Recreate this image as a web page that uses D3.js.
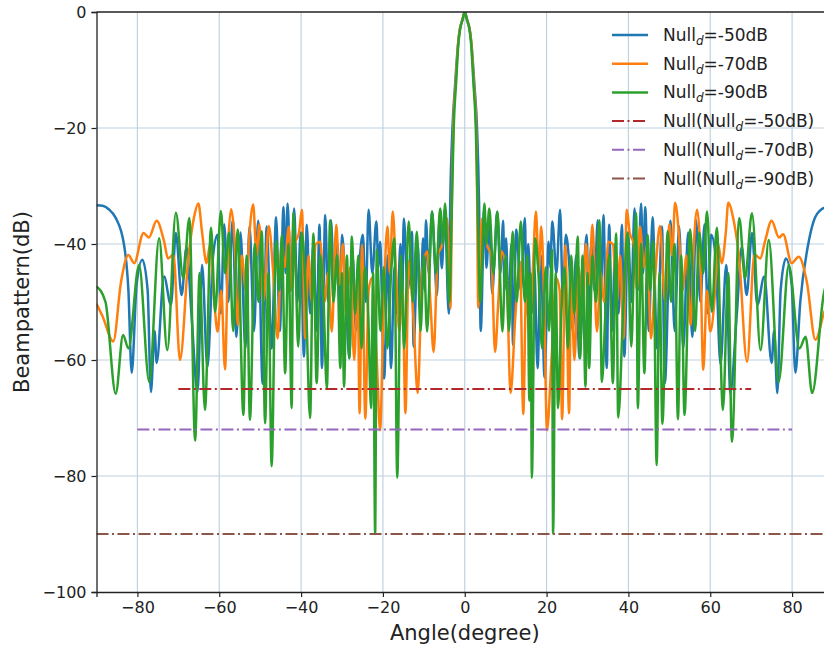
<!DOCTYPE html>
<html lang="en">
<head>
<meta charset="UTF-8" />
<title>Beampattern</title>
<script src="https://d3js.org/d3.v7.min.js"></script>
<style>
  body { margin: 0; background: #fff; }
  svg { font-family: "DejaVu Sans", sans-serif; }
  .grid line { stroke: #bfd2de; stroke-width: 1.2; }
</style>
</head>
<body>
<script>
// angle (degree) / beampattern (dB) pairs
var blue50 = [
  [-90,-33.3],[-88.5,-33.4],[-87,-34],[-85.3,-35.5],[-83.3,-40],[-82.2,-48],[-81.4,-62.2],[-80.2,-47],[-78.8,-42.7],[-77.5,-48],[-76.7,-65.5],[-75.8,-55],[-75.3,-60.5],[-73.5,-45.6],[-71.8,-50.5],[-70.6,-38.1],[-69.2,-48.8],[-68.0,-40.5],[-66.8,-52],[-65.3,-65.5],[-64.2,-43.6],[-62.9,-61.2],[-61.5,-42],[-60.4,-38.4],[-59.6,-52],[-58.8,-36.6],[-57.8,-50],[-56.7,-35.8],[-55.8,-56],[-54.8,-38],[-53.6,-58],[-52.6,-37],[-51.5,-55],[-50.5,-36],[-49.4,-64.1],[-48.4,-37],[-47.2,-58],[-46.1,-35.4],[-45.2,-55],[-44.3,-33.6],[-43.8,-45],[-43.3,-33.0],[-42.5,-48],[-41.7,-33.9],[-40.9,-50],[-40.1,-38],[-39.3,-59.4],[-38.6,-36.7],[-37.8,-52],[-37.0,-40],[-36.2,-55],[-35.5,-36.7],[-34.9,-61.4],[-34.1,-35],[-33.4,-50],[-32.7,-35.9],[-31.9,-48],[-31.1,-40],[-30.5,-52],[-30.0,-38.4],[-29.0,-50],[-28.2,-59.7],[-27.4,-42],[-26.6,-55],[-25.7,-43],[-24.9,-38.4],[-24.2,-50],[-23.5,-34.1],[-22.6,-45],[-21.6,-36.1],[-21.1,-44],[-20.7,-39.6],[-19.7,-63.2],[-18.8,-42],[-18.0,-61.4],[-17.2,-44],[-16.5,-52],[-15.7,-40],[-15.3,-50],[-14.9,-35.6],[-13.9,-48],[-12.9,-37.9],[-12.5,-57.7],[-11.5,-40],[-10.8,-52],[-10.2,-39],[-9.8,-48],[-9.5,-35.9],[-8.8,-45],[-8.0,-34.4],[-7.4,-42],[-6.8,-48.8],[-6.2,-36],[-5.6,-44.2],[-4.9,-34],[-3.9,-52],[-3.55,-33],[-3.0,-20],[-2.4,-13],[-1.7,-6],[-1.2,-3],[-0.6,-1.5],[0,0],
  [0.6,-1.5],[1.2,-3],[1.7,-6],[2.4,-13],[3.0,-20],[3.5,-33],[3.9,-55],[4.8,-34],[5.3,-44.1],[6.0,-36],[6.7,-48.5],[7.3,-42],[7.9,-34.5],[8.7,-45],[9.4,-36],[9.7,-48],[10.1,-39],[10.7,-52],[11.4,-40],[11.8,-57.4],[12.6,-37.5],[13.7,-48],[14.7,-35.5],[15.1,-50],[15.5,-40],[16.3,-52],[17.0,-44],[17.8,-61.4],[18.6,-42],[19.5,-63],[20.5,-39.6],[20.9,-44],[21.4,-36.1],[22.4,-45],[23.3,-34.1],[24.0,-50],[24.7,-38.4],[25.5,-43],[26.4,-55],[27.2,-42],[28.0,-59.7],[28.8,-50],[29.8,-38.4],[30.3,-52],[30.9,-40],[31.7,-48],[32.5,-35.9],[33.2,-50],[33.9,-35],[34.7,-61.4],[35.3,-36.7],[36.0,-55],[36.8,-40],[37.6,-52],[38.4,-36.7],[39.0,-59.4],[39.9,-38],[40.7,-50],[41.5,-33.9],[42.3,-48],[43.1,-33.0],[43.6,-45],[44.1,-33.6],[45.0,-55],[45.9,-35.4],[47.0,-58],[48.2,-37],[48.9,-64],[50.3,-36],[51.3,-55],[52.4,-37],[53.4,-58],[54.6,-38],[55.6,-56],[56.5,-35.8],[57.6,-50],[58.6,-36.6],[59.4,-52],[60.2,-38.4],[61.3,-42],[62.5,-60.7],[63.9,-43.6],[64.9,-65.7],[66.5,-52],[67.7,-40.5],[68.9,-48.8],[70.2,-38.1],[71.5,-50.5],[73.2,-45.6],[75.0,-60.5],[75.6,-55],[76.4,-65.7],[77.2,-48],[78.5,-42.5],[79.9,-47],[80.8,-62.2],[82.0,-50],[83.7,-41],[85.3,-36],[87.2,-34],[90,-33.3]
];

var orange70 = [
  [-90,-50.3],[-88.5,-52.5],[-85.9,-56.8],[-84,-46.5],[-82.2,-41.9],[-80.8,-43.3],[-78.5,-38.1],[-77.2,-38.9],[-75.3,-36.0],[-73.5,-39.5],[-72.5,-42.5],[-71.2,-41.8],[-69.6,-60.0],[-67.5,-42],[-66.2,-35.5],[-65.1,-33.0],[-64.2,-38],[-63.1,-43.3],[-62.2,-40],[-61.2,-50],[-60.4,-55.1],[-59.5,-48],[-58.6,-61.6],[-57.8,-40],[-57.1,-34.0],[-56.2,-40],[-55.5,-54],[-54.5,-42],[-53.5,-48],[-52.6,-38],[-51.7,-33.2],[-50.9,-42],[-50.2,-36.6],[-49.2,-50],[-47.9,-36.9],[-46.8,-45],[-45.7,-56.3],[-44.8,-40],[-44.0,-44],[-43.0,-37],[-42.3,-48],[-41.5,-40],[-40.5,-38],[-39.8,-34.1],[-39.0,-56.3],[-38.2,-42],[-37.4,-50],[-36.4,-40],[-35.3,-39.6],[-34.3,-50],[-33.4,-45],[-32.5,-55.1],[-31.4,-36.7],[-30.6,-47],[-29.8,-40],[-29.0,-52],[-28.0,-44],[-27.0,-60],[-26.2,-45],[-25.7,-69.2],[-25.1,-40.2],[-24.3,-70.1],[-23.5,-48],[-22.7,-45.9],[-21.5,-60],[-20.7,-72.1],[-19.8,-50],[-18.9,-37],[-18.3,-45],[-17.6,-34.4],[-16.8,-45],[-16.0,-55],[-15.2,-48],[-14.5,-69.2],[-13.7,-43.0],[-12.6,-52],[-11.5,-65.7],[-10.4,-45],[-9.2,-41.3],[-8.4,-50],[-7.6,-58.6],[-6.6,-42],[-5.5,-40],[-4.9,-36],[-4.3,-35.6],[-3.5,-51.1],[-3.1,-30],[-2.8,-20],[-2.2,-12],[-1.5,-4.5],[-1.2,-3],[-0.6,-1.4],[0,0],
  [0.6,-1.4],[1.2,-3],[1.5,-4.5],[2.2,-12],[2.8,-20],[3.0,-30],[3.3,-51],[4.2,-35.6],[4.8,-36],[5.4,-40],[6.5,-42],[7.4,-58.6],[8.2,-50],[9.0,-41.3],[10.2,-45],[11.2,-65.7],[12.4,-52],[13.5,-43],[14.3,-69.3],[15.0,-48],[15.8,-55],[16.6,-45],[17.4,-34.4],[18.1,-45],[18.7,-37],[19.4,-50],[20.1,-72.1],[21.2,-60],[22.4,-45.9],[23.2,-48],[23.8,-70.2],[24.6,-40.2],[25.5,-69.2],[26.0,-45],[26.8,-60],[27.8,-44],[28.8,-52],[29.6,-40],[30.4,-47],[31.2,-36.7],[32.3,-55.1],[33.2,-45],[34.1,-50],[35.1,-39.6],[36.2,-40],[37.2,-50],[38.0,-42],[38.8,-56.3],[39.6,-34.1],[40.3,-38],[41.3,-40],[42.1,-48],[42.8,-37],[43.8,-44],[44.6,-40],[45.5,-56.3],[46.6,-45],[47.7,-36.9],[49.0,-50],[50.0,-36.6],[50.7,-42],[51.4,-32.9],[52.3,-38],[53.2,-48],[54.2,-42],[55.2,-54],[56.0,-40],[56.8,-34.1],[57.5,-40],[58.3,-61.7],[59.2,-48],[60.0,-55.1],[61.0,-50],[61.9,-40],[62.8,-43.3],[63.8,-38],[64.4,-32.9],[65.6,-35.5],[67.0,-42],[69.0,-60.3],[70.8,-41.8],[72.2,-42.5],[73.4,-39.5],[75.0,-36.0],[76.8,-38.9],[77.8,-38.3],[79.9,-43.3],[81.6,-42.2],[83.6,-46.5],[85.7,-56.5],[88.0,-51.5],[90,-49.5]
];

var green90 = [
  [-90,-47.3],[-87.8,-50],[-85.3,-65.8],[-83.5,-55.7],[-82.2,-58],[-79.6,-43.6],[-77.1,-63.8],[-74.7,-39],[-72.7,-58.3],[-70.6,-34.6],[-68.8,-45.9],[-67.3,-35.5],[-65.9,-73.9],[-64.8,-45],[-63.5,-68.6],[-62,-37.2],[-61,-51.7],[-59.6,-34.3],[-58.6,-45],[-57.6,-38],[-56.6,-55],[-55.5,-37.5],[-54.1,-69.5],[-53.3,-42],[-52.5,-70.3],[-51.3,-40],[-50.4,-50],[-49.6,-37.8],[-48.8,-70.9],[-48.0,-45],[-47.2,-78.3],[-46.1,-39.5],[-45.3,-48],[-44.7,-38.4],[-43.9,-62.3],[-43.1,-40],[-42.3,-68.3],[-41.9,-34.7],[-41.3,-45],[-40.7,-57.7],[-39.8,-38],[-38.8,-50],[-37.8,-70],[-37.0,-38.2],[-36.2,-64],[-35.3,-42],[-34.5,-50],[-33.7,-64.9],[-32.9,-35.9],[-32.1,-50],[-31.2,-42],[-30.4,-61.4],[-30.0,-45],[-29.5,-64.6],[-28.8,-42],[-28.2,-59.7],[-27.6,-38.7],[-26.8,-52],[-26.0,-42],[-25.2,-58],[-24.4,-44],[-23.6,-52],[-22.9,-68.3],[-22.4,-45],[-21.9,-89.9],[-21.5,-41],[-20.6,-55],[-19.8,-44],[-18.9,-58],[-18.0,-45],[-17.2,-39],[-16.5,-80.3],[-15.6,-42],[-14.8,-58],[-13.7,-36.1],[-12.7,-50],[-11.7,-37.9],[-10.8,-55],[-10.0,-42],[-9.2,-55.1],[-8.0,-34.4],[-7.0,-45],[-6.0,-33.9],[-5.3,-40],[-4.8,-33],[-3.8,-50],[-3.1,-32],[-2.7,-20],[-2.1,-12],[-1.5,-5],[-1.1,-2.8],[-0.5,-1.2],[0,0],
  [0.5,-1.2],[1.1,-2.8],[1.5,-5],[2.1,-12],[2.7,-20],[3.1,-32],[3.8,-50],[4.8,-33],[5.3,-40],[6.0,-33.9],[7.0,-45],[8.0,-34.4],[9.2,-55.1],[10.0,-42],[10.8,-55],[11.7,-37.9],[12.7,-50],[13.7,-36.1],[14.7,-50],[15.3,-42],[15.8,-67],[16.1,-45],[16.4,-80.3],[17.2,-39],[18.0,-45],[18.9,-58],[19.8,-44],[20.6,-55],[21.3,-41],[21.6,-89.9],[22.2,-45],[22.8,-68.3],[23.6,-52],[24.4,-44],[25.2,-58],[26.0,-42],[26.8,-52],[27.6,-38.7],[28.2,-59.7],[28.8,-42],[29.5,-64.6],[30.0,-45],[30.4,-61.4],[31.2,-42],[32.1,-50],[32.9,-35.9],[33.5,-63.8],[34.5,-50],[35.3,-42],[36.2,-64],[37.0,-38.2],[37.5,-69.9],[38.8,-50],[39.8,-38],[40.7,-57.7],[41.3,-45],[41.9,-34.7],[42.3,-68.3],[43.1,-40],[43.9,-62.3],[44.7,-38.4],[45.3,-48],[46.1,-39.5],[46.9,-78.1],[47.6,-45],[48.3,-71],[49.6,-37.8],[50.4,-50],[51.3,-40],[52.1,-70.2],[52.9,-42],[53.7,-69.5],[55.1,-37.5],[56.3,-55],[57.3,-38],[58.3,-45],[59.2,-34.4],[60.4,-51.7],[61.6,-37.2],[63.1,-68.6],[64.4,-45],[65.3,-74.1],[67.1,-35.5],[68.5,-45.9],[70.2,-34.7],[72.3,-58.3],[74.3,-39.3],[76.7,-63.8],[79.2,-43.6],[81.8,-58],[83.3,-56],[84.9,-65.7],[87.8,-48.4],[90,-45]
];

// null depth lines: level (dB) and angular extent
var nullLevels = [-65, -72, -90];
var nullFrom   = [-70, -80, -90];
var nullTo     = [70, 80, 90];

var xTicks = [-80, -60, -40, -20, 0, 20, 40, 60, 80];
var yTicks = [-100, -80, -60, -40, -20, 0];

var seriesNames = ["Null_d=-50dB", "Null_d=-70dB", "Null_d=-90dB"];
var nullNames = ["-50dB", "-70dB", "-90dB"];

var colors = ["#1f77b4", "#ff7f0e", "#2ca02c"];
var nullColors = ["#b3282b", "#9467bd", "#8c564b"];

var width = 824, height = 650;
var margin = {top: 12, left: 96.5, bottom: 58};

var svg = d3.select("body").append("svg")
  .attr("width", width)
  .attr("height", height);

var x = d3.scaleLinear().domain([-90, 90]).range([margin.left, 833]);
var y = d3.scaleLinear().domain([-100, 0]).range([height - margin.bottom, margin.top]);

svg.append("defs").append("clipPath").attr("id", "plot")
  .append("rect")
  .attr("x", x(-90)).attr("y", y(0))
  .attr("width", x(90) - x(-90)).attr("height", y(-100) - y(0));

// grid
var grid = svg.append("g").attr("class", "grid");
grid.selectAll(".vx").data(xTicks).enter().append("line")
  .attr("x1", function(d) { return x(d); }).attr("x2", function(d) { return x(d); })
  .attr("y1", y(0)).attr("y2", y(-100));
grid.selectAll(".hy").data(yTicks.slice(1, -1)).enter().append("line")
  .attr("x1", x(-90)).attr("x2", x(90))
  .attr("y1", function(d) { return y(d); }).attr("y2", function(d) { return y(d); });

var line = d3.line()
  .x(function(d) { return x(d[0]); })
  .y(function(d) { return y(d[1]); })
  .curve(d3.curveMonotoneX);

var plot = svg.append("g").attr("clip-path", "url(#plot)");

[blue50, orange70, green90].forEach(function(s, i) {
  plot.append("path")
    .datum(s)
    .attr("fill", "none")
    .attr("stroke", colors[i])
    .attr("stroke-width", 2.5)
    .attr("stroke-linejoin", "round")
    .attr("d", line);
});

var dashDot = "12,3.5,2,3.5";
nullLevels.forEach(function(v, i) {
  plot.append("line")
    .attr("x1", x(nullFrom[i])).attr("x2", x(nullTo[i]))
    .attr("y1", y(v)).attr("y2", y(v))
    .attr("stroke", nullColors[i])
    .attr("stroke-width", 2)
    .attr("stroke-dasharray", dashDot);
});

// axes
var xAxis = svg.append("g")
  .attr("transform", "translate(0," + y(-100) + ")")
  .call(d3.axisBottom(x).tickValues(xTicks).tickSize(5).tickPadding(5));
var yAxis = svg.append("g")
  .attr("transform", "translate(" + x(-90) + ",0)")
  .call(d3.axisLeft(y).tickValues(yTicks).tickSize(5).tickPadding(5));

[xAxis, yAxis].forEach(function(a) {
  a.selectAll("text").attr("font-size", 16).attr("fill", "#222")
    .attr("font-family", "DejaVu Sans, sans-serif");
  a.selectAll("line").attr("stroke", "#222").attr("stroke-width", 1.2);
  a.select(".domain").attr("stroke", "#222").attr("stroke-width", 1.3);
});

// top spine
svg.append("line")
  .attr("x1", x(-90)).attr("x2", x(90))
  .attr("y1", y(0)).attr("y2", y(0))
  .attr("stroke", "#222").attr("stroke-width", 1.3);

svg.append("text")
  .attr("x", x(0)).attr("y", 640)
  .attr("text-anchor", "middle")
  .attr("font-size", 21).attr("fill", "#222")
  .text("Angle(degree)");

svg.append("text")
  .attr("transform", "translate(29," + y(-50) + ") rotate(-90)")
  .attr("text-anchor", "middle")
  .attr("font-size", 21).attr("fill", "#222")
  .text("Beampattern(dB)");

// legend
var legend = svg.append("g").attr("transform", "translate(612,35)");
var rowH = 28.7;

function labelNull(t, level) {
  t.append("tspan").text("Null");
  t.append("tspan").attr("font-style", "italic").attr("font-size", 12).attr("dy", 4).text("d");
  t.append("tspan").attr("dy", -4).text("=" + level);
}

for (var i = 0; i < 6; i++) {
  var row = legend.append("g").attr("transform", "translate(0," + (i * rowH) + ")");
  var isNull = i >= 3;
  var k = i % 3;
  row.append("line")
    .attr("x1", 0).attr("x2", 36)
    .attr("stroke", isNull ? nullColors[k] : colors[k])
    .attr("stroke-width", isNull ? 2 : 2.5)
    .attr("stroke-dasharray", isNull ? dashDot : null);
  var t = row.append("text")
    .attr("x", 51).attr("y", 6)
    .attr("font-size", 17).attr("fill", "#222");
  if (isNull) {
    t.append("tspan").text("Null(");
    labelNull(t, nullNames[k] + ")");
  } else {
    labelNull(t, seriesNames[k].split("=")[1]);
  }
}
</script>
</body>
</html>
